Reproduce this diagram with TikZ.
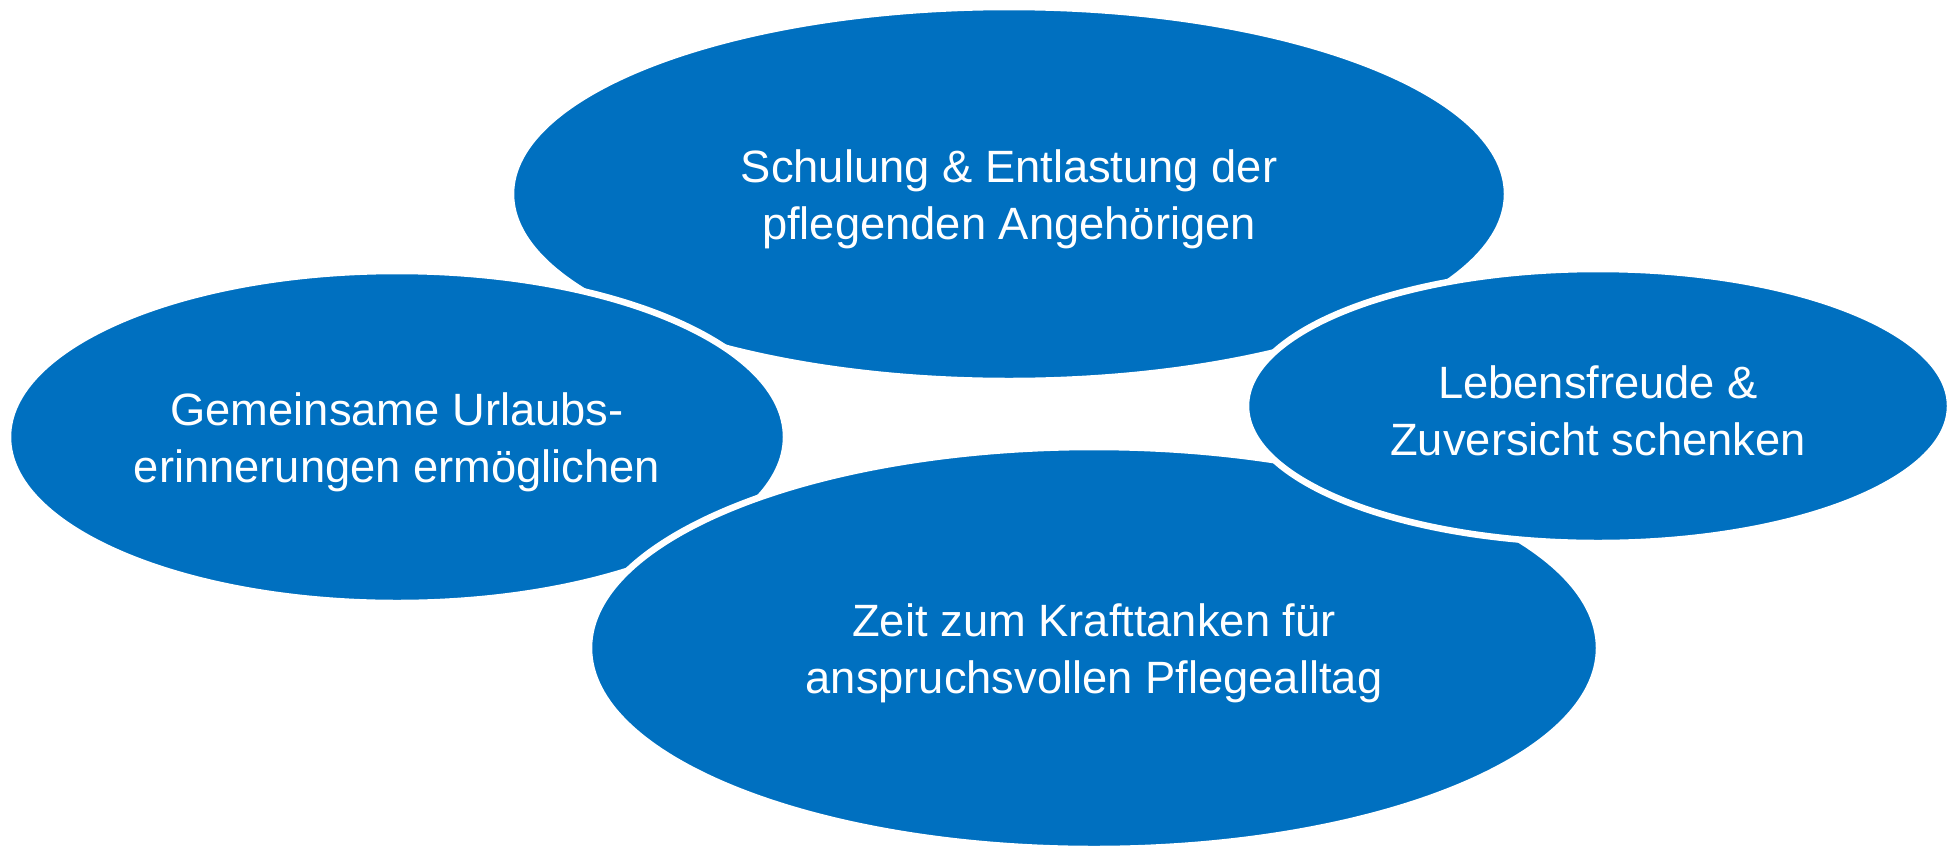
\documentclass[tikz,border=0pt]{standalone}
\usepackage{fontspec}
\setmainfont{Liberation Sans}
\usetikzlibrary{shapes.geometric}
\definecolor{bubbleblue}{HTML}{0070C0}
\tikzset{
  bubble/.style={ellipse, fill=bubbleblue, draw=white, line width=6.5pt,
    inner sep=0pt},
  bubbletext/.style={text=white, align=center, inner sep=0pt, yshift=-5pt,
    font=\fontsize{45.3}{57}\selectfont}
}
\begin{document}
\begin{tikzpicture}[x=1pt,y=-1pt]
\useasboundingbox (0,0) rectangle (1958,857);
\node[bubble, minimum width=996pt, minimum height=374pt,
  label={[bubbletext]center:{Schulung \& Entlastung der\\pflegenden Angehörigen}}]
  (eTop) at (1009,194) {};
\node[bubble, minimum width=778pt, minimum height=332pt,
  label={[bubbletext]center:{Gemeinsame Urlaubs-\\erinnerungen ermöglichen}}]
  (eLeft) at (397,437) {};
\node[bubble, minimum width=1010pt, minimum height=402pt,
  label={[bubbletext]center:{Zeit zum Krafttanken für\\anspruchsvollen Pflegealltag}}]
  (eBottom) at (1094,648) {};
\node[bubble, minimum width=704pt, minimum height=274pt,
  label={[bubbletext]center:{Lebensfreude \&\\Zuversicht schenken}}]
  (eRight) at (1598,406) {};
\end{tikzpicture}
\end{document}
